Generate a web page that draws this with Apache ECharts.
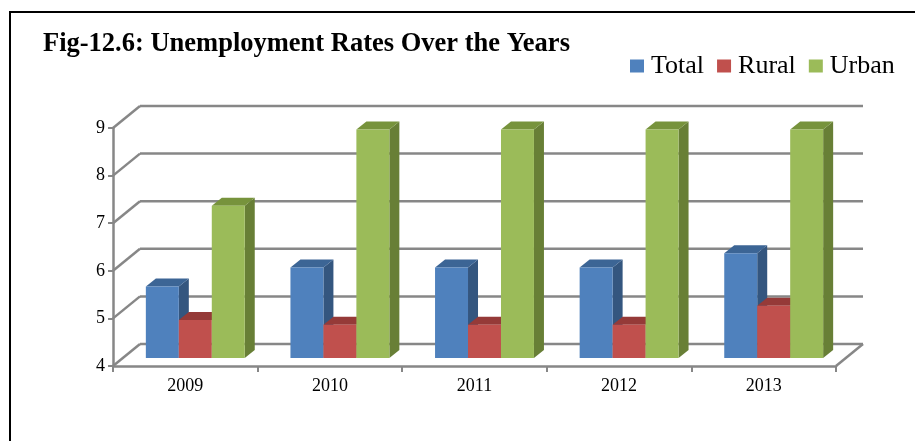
<!DOCTYPE html>
<html>
<head>
<meta charset="utf-8">
<script src="https://cdn.jsdelivr.net/npm/echarts@6/dist/echarts.min.js"></script>
<style>
html,body{margin:0;padding:0;background:#fff;}
#chart{width:915px;height:441px;}
</style>
</head>
<body>
<div id="chart"></div>
<script>
// ---- data ----
const years = ['2009', '2010', '2011', '2012', '2013'];
const total = [5.5, 5.9, 5.9, 5.9, 6.2];
const rural = [4.8, 4.7, 4.7, 4.7, 5.1];
const urban = [7.2, 8.8, 8.8, 8.8, 8.8];
const yTicks = [4, 5, 6, 7, 8, 9];
const seriesNames = ['Total', 'Rural', 'Urban'];

// ---- styling ----
const FONT = '"Liberation Serif", "Times New Roman", serif';
const GRAY = '#878787';
const WALL_DX = 27, WALL_DY = -22;   // back wall offset
const BAR_FX = 10, BAR_FY = -8;      // bar front plane offset
const BAR_DX = 10, BAR_DY = -8;      // bar depth
const BAR_FRAC = 0.228;
const palettes = [
  { front: '#4F81BD', top: '#3C6595', side: '#34567F' },
  { front: '#C0504D', top: '#953A38', side: '#8B3634' },
  { front: '#9BBB59', top: '#77933C', side: '#687F36' }
];
const values = [total, rural, urban];
const yMin = yTicks[0], yMax = yTicks[yTicks.length - 1];

const chart = echarts.init(document.getElementById('chart'), null, { renderer: 'canvas' });

function barRenderer(k) {
  const pal = palettes[k];
  return function (params, api) {
    const i = api.value(0), v = api.value(1);
    const base = api.coord([i, yMin]);
    const top = api.coord([i, v]);
    const band = api.size([1, 0])[0];
    const bw = band * BAR_FRAC;
    const x0 = base[0] - 1.5 * bw + k * bw + BAR_FX;
    const x1 = x0 + bw;
    const yb = base[1] + BAR_FY;
    const yt = top[1] + BAR_FY;
    return {
      type: 'group',
      children: [
        { type: 'polygon', shape: { points: [[x1, yt], [x1 + BAR_DX, yt + BAR_DY], [x1 + BAR_DX, yb + BAR_DY], [x1, yb]] },
          style: { fill: pal.side } },
        { type: 'polygon', shape: { points: [[x0, yt], [x1, yt], [x1 + BAR_DX, yt + BAR_DY], [x0 + BAR_DX, yt + BAR_DY]] },
          style: { fill: pal.top } },
        { type: 'rect', shape: { x: x0, y: yt, width: bw, height: yb - yt },
          style: { fill: pal.front } }
      ]
    };
  };
}

function wallRenderer(params, api) {
  const v = api.value(1);
  const cs = params.coordSys;
  const y = api.coord([0, v])[1];
  const xl = cs.x, xr = cs.x + cs.width;
  const children = [
    { type: 'line', shape: { x1: xl, y1: y, x2: xl + WALL_DX, y2: y + WALL_DY }, style: { stroke: GRAY, lineWidth: 2.5 } },
    { type: 'line', shape: { x1: xl + WALL_DX, y1: y + WALL_DY, x2: xr + WALL_DX, y2: y + WALL_DY }, style: { stroke: GRAY, lineWidth: 2.5 } }
  ];
  if (v === yMin) {
    children.push({ type: 'line', shape: { x1: xr, y1: y, x2: xr + WALL_DX, y2: y + WALL_DY }, style: { stroke: GRAY, lineWidth: 2.5 } });
  }
  return { type: 'group', children: children };
}

const series = [
  {
    type: 'custom',
    name: 'wall',
    renderItem: wallRenderer,
    data: yTicks.map(v => [0, v]),
    encode: { x: 0, y: 1 },
    clip: false,
    silent: true,
    z: 1
  }
];
seriesNames.forEach((name, k) => {
  series.push({
    type: 'custom',
    name: name,
    renderItem: barRenderer(k),
    data: values[k].map((v, i) => [i, v]),
    encode: { x: 0, y: 1 },
    itemStyle: { color: palettes[k].front },
    clip: false,
    z: 2 + k
  });
});

chart.setOption({
  animation: false,
  backgroundColor: '#fff',
  title: {
    text: 'Fig-12.6: Unemployment Rates Over the Years',
    left: 43, top: 31, padding: 0,
    textStyle: { fontFamily: FONT, fontWeight: 'bold', fontSize: 26.5, color: '#000' }
  },
  legend: {
    data: seriesNames,
    left: 630, top: 53, padding: 0,
    itemWidth: 14, itemHeight: 13, itemGap: 13,
    icon: 'rect',
    textStyle: { fontFamily: FONT, fontSize: 26, color: '#000', padding: [0, 0, 0, 2] }
  },
  grid: { left: 113, top: 128, width: 723, height: 238 },
  xAxis: {
    type: 'category',
    data: years,
    axisLine: { show: true, lineStyle: { color: GRAY, width: 2.5 } },
    axisTick: { show: true, length: 6, lineStyle: { color: GRAY, width: 2 } },
    axisLabel: { fontFamily: FONT, fontSize: 18, color: '#000', margin: 11 },
    splitLine: { show: false }
  },
  yAxis: {
    type: 'value',
    min: yMin, max: yMax, interval: 1,
    axisLine: { show: true, lineStyle: { color: GRAY, width: 2.5 } },
    axisTick: { show: true, length: 5, lineStyle: { color: GRAY, width: 2 } },
    axisLabel: { fontFamily: FONT, fontSize: 18, color: '#000', margin: 8 },
    splitLine: { show: false }
  },
  graphic: [
    { type: 'rect', shape: { x: 10, y: 12, width: 1000, height: 1000 },
      style: { fill: null, stroke: '#000', lineWidth: 2 }, z: 100, silent: true }
  ],
  series: series
});
</script>
</body>
</html>
